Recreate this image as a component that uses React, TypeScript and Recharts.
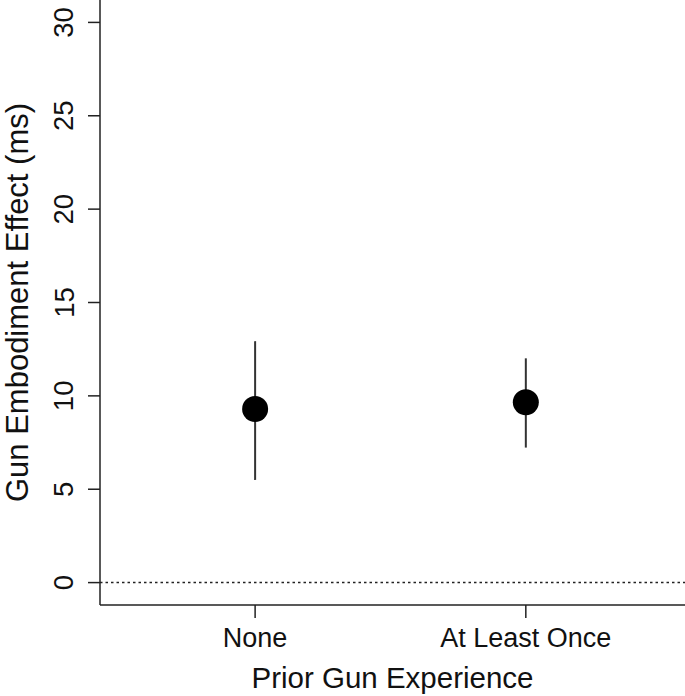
import React from 'react';
import {
  ComposedChart,
  Scatter,
  ErrorBar,
  XAxis,
  YAxis,
  ReferenceLine,
} from 'recharts';

const categories = ['None', 'At Least Once'];
const means = [9.3, 9.66];
const lowerBounds = [5.5, 7.23];
const upperBounds = [12.93, 12.01];
const yTicks = [0, 5, 10, 15, 20, 25, 30];

const data = categories.map((name, i) => ({
  pos: i + 1,
  name,
  mean: means[i],
  err: [means[i] - lowerBounds[i], upperBounds[i] - means[i]],
}));

const FONT = '"Liberation Sans", Arial, sans-serif';

const YTick = (props: any) => {
  const { x, y, payload } = props;
  return (
    <text
      x={x}
      y={y}
      transform={`rotate(-90, ${x}, ${y})`}
      textAnchor="middle"
      dominantBaseline="central"
      fontFamily={FONT}
      fontSize={27.5}
      fill="#111"
    >
      {payload.value}
    </text>
  );
};

const Dot = (props: any) => {
  const { cx, cy } = props;
  return <circle cx={cx} cy={cy} r={13} fill="#000" />;
};

export default function App() {
  return (
    <div style={{ position: 'absolute', left: 0, top: 0, background: '#fff' }}>
      <ComposedChart
        width={685}
        height={696}
        data={data}
        margin={{ top: 0, right: 0, bottom: 0, left: 0 }}
      >
        <XAxis
          type="number"
          dataKey="pos"
          domain={[0.427, 2.588]}
          ticks={[1, 2]}
          allowDataOverflow
          tickFormatter={(v: number) => categories[v - 1] ?? ''}
          height={91}
          tickSize={13}
          tickMargin={10}
          stroke="#222"
          strokeWidth={1.5}
          tick={{ fill: '#111', fontSize: 27, fontFamily: FONT }}
          label={{
            value: 'Prior Gun Experience',
            position: 'insideBottom',
            offset: 8,
            style: { fill: '#111', fontSize: 29.5, fontFamily: FONT },
          }}
        />
        <YAxis
          type="number"
          domain={[-1.2, 31.2]}
          ticks={yTicks}
          allowDataOverflow
          width={100}
          tickSize={12}
          tickMargin={24}
          stroke="#222"
          strokeWidth={1.5}
          tick={<YTick />}
          label={{
            value: 'Gun Embodiment Effect (ms)',
            angle: -90,
            position: 'insideLeft',
            offset: 17,
            style: { textAnchor: 'middle', fill: '#111', fontSize: 31, fontFamily: FONT },
          }}
        />
        <ReferenceLine y={0} stroke="#222" strokeWidth={1.5} strokeDasharray="2.5 3" />
        <Scatter dataKey="mean" shape={<Dot />} isAnimationActive={false}>
          <ErrorBar dataKey="err" direction="y" width={0} stroke="#333" strokeWidth={2} />
        </Scatter>
      </ComposedChart>
    </div>
  );
}
